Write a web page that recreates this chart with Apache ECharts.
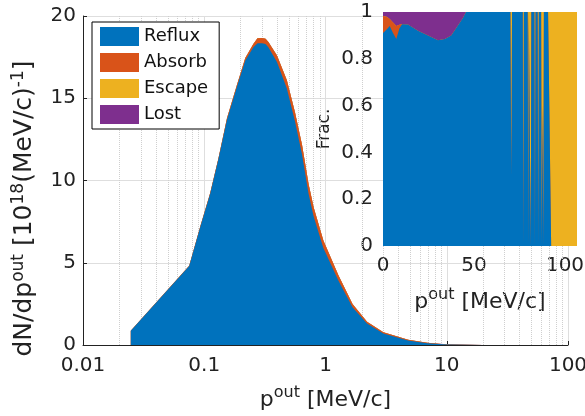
<!DOCTYPE html>
<html>
<head>
<meta charset="utf-8">
<script src="https://cdn.jsdelivr.net/npm/echarts@6/dist/echarts.min.js"></script>
<style>
  html, body { margin: 0; padding: 0; background: #fff; }
</style>
</head>
<body>
<div id="chart" style="width: 585px; height: 416px;"></div>
<script>
// main spectrum, p in MeV/c (log axis), dN/dp in 1e18 (MeV/c)^-1
var mainP = [0.0248, 0.0752, 0.093, 0.112, 0.131, 0.154, 0.186, 0.218, 0.254, 0.275, 0.3, 0.32, 0.338, 0.398, 0.48, 0.56, 0.64, 0.725, 0.8, 0.96, 1.28, 1.67, 2.2, 3.0, 4.8, 6.9, 10, 20, 50, 90];
var mainReflux = [0.87, 4.8, 7.2, 9.2, 11.3, 13.7, 15.7, 17.3, 18.1, 18.35, 18.35, 18.3, 18.1, 17.2, 15.6, 13.6, 11.6, 9.2, 7.8, 5.9, 3.9, 2.3, 1.3, 0.7, 0.28, 0.11, 0.03, 0.005, 0.001, 0];
var mainAbsorb = [0, 0.02, 0.03, 0.04, 0.06, 0.08, 0.1, 0.15, 0.2, 0.3, 0.32, 0.32, 0.32, 0.4, 0.5, 0.55, 0.58, 0.58, 0.55, 0.45, 0.32, 0.2, 0.12, 0.07, 0.04, 0.02, 0.006, 0, 0, 0];
var mainEscape = [0, 0, 0, 0, 0, 0, 0, 0, 0, 0, 0, 0, 0, 0, 0, 0, 0, 0, 0, 0, 0, 0, 0, 0, 0, 0, 0, 0, 0, 0.0005];
var mainLost = [0, 0, 0, 0, 0, 0, 0, 0, 0, 0, 0, 0, 0, 0, 0, 0, 0, 0, 0, 0, 0, 0, 0, 0.001, 0.004, 0.006, 0.002, 0.0005, 0, 0];

// inset: fractions vs p (linear axis)
var insetP = [0, 2, 3.7, 5.5, 7.3, 9, 10.5, 13.7, 19.2, 24.7, 30.2, 34, 37.5, 41, 44, 45.6, 70, 70.5, 70.9, 76.8, 77.1, 77.4, 79.5, 79.8, 80.1, 80.9, 81.2, 81.5, 83.2, 83.5, 83.8, 85.0, 85.3, 85.6, 86.9, 87.2, 87.65, 88.1, 88.4, 90.7, 92.4, 106.6];
var insetReflux = [0.91, 0.925, 0.94, 0.91, 0.885, 0.93, 0.948, 0.947, 0.92, 0.9, 0.879, 0.885, 0.9, 0.94, 0.975, 1, 1, 0.3, 1, 1, 0, 1, 1, 0, 1, 1, 0, 1, 1, 0, 1, 1, 0, 1, 1, 0, 0.6, 0, 1, 1, 0, 0];
var insetAbsorb = [0.073, 0.055, 0.03, 0.045, 0.055, 0.015, 0, 0, 0, 0, 0, 0, 0, 0, 0, 0, 0, 0, 0, 0, 0, 0, 0, 0, 0, 0, 0, 0, 0, 0, 0, 0, 0, 0, 0, 0, 0, 0, 0, 0, 0, 0];
var insetEscape = [0, 0, 0, 0, 0, 0, 0, 0, 0, 0, 0, 0, 0, 0, 0, 0, 0, 0.7, 0, 0, 1, 0, 0, 1, 0, 0, 1, 0, 0, 1, 0, 0, 1, 0, 0, 1, 0.4, 1, 0, 0, 1, 1];
var insetLost = [0.017, 0.02, 0.03, 0.045, 0.06, 0.055, 0.052, 0.053, 0.08, 0.1, 0.121, 0.115, 0.1, 0.06, 0.025, 0, 0, 0, 0, 0, 0, 0, 0, 0, 0, 0, 0, 0, 0, 0, 0, 0, 0, 0, 0, 0, 0, 0, 0, 0, 0, 0];

var names = ['Reflux', 'Absorb', 'Escape', 'Lost'];
var colors = ['#0072BD', '#D95319', '#EDB120', '#7E2F8E'];
var decades = [0.01, 0.1, 1, 10];
var minorSteps = [2, 3, 4, 5, 6, 7, 8, 9];

var font = 'DejaVu Sans';
var txt = '#222';

// running totals so each layer can be filled down to zero, top layer drawn first
function cumulative(sets) {
  var out = [];
  var run = sets[0].map(function () { return 0; });
  sets.forEach(function (s) {
    run = run.map(function (v, i) { return v + s[i]; });
    out.push(run.slice());
  });
  return out;
}

function pairs(xs, ys) {
  return xs.map(function (x, i) { return [x, ys[i]]; });
}

var minorLines = [];
decades.forEach(function (d) {
  minorSteps.forEach(function (k) {
    minorLines.push({ xAxis: +(d * k).toPrecision(3) });
  });
});

var mainTotals = cumulative([mainReflux, mainAbsorb, mainEscape, mainLost]);
var insetTotals = cumulative([insetReflux, insetAbsorb, insetEscape, insetLost]);

var series = [{
  type: 'line',
  xAxisIndex: 0,
  yAxisIndex: 0,
  data: [],
  silent: true,
  z: 1,
  markLine: {
    silent: true,
    symbol: 'none',
    label: { show: false },
    z: 1,
    lineStyle: { color: '#cfcfcf', type: 'dotted', width: 1 },
    data: minorLines
  }
}];

function addLayers(totals, xs, xi, baseZ) {
  for (var i = names.length - 1; i >= 0; i--) {
    series.push({
      name: names[i],
      type: 'line',
      xAxisIndex: xi,
      yAxisIndex: xi,
      data: pairs(xs, totals[i]),
      showSymbol: false,
      lineStyle: { width: 0 },
      areaStyle: { color: colors[i], opacity: 1 },
      itemStyle: { color: colors[i] },
      z: baseZ + (names.length - i)
    });
  }
}
addLayers(mainTotals, mainP, 0, 2);
addLayers(insetTotals, insetP, 1, 10);

var supRich = {
  sup: { fontSize: 16, fontFamily: font, color: txt, verticalAlign: 'top', lineHeight: 30 }
};

var option = {
  animation: false,
  backgroundColor: '#fff',
  color: colors,
  grid: [
    { left: 83, top: 16, right: 17, bottom: 71, outerBoundsMode: 'none' },
    { left: 383, top: 12, width: 194, height: 234, outerBoundsMode: 'none' }
  ],
  legend: {
    data: names,
    left: 92,
    top: 22,
    z: 30,
    orient: 'vertical',
    icon: 'rect',
    itemWidth: 39,
    itemHeight: 19,
    itemGap: 7,
    padding: [5, 11, 5, 8],
    borderColor: '#000',
    borderWidth: 1,
    borderRadius: 0,
    backgroundColor: '#fff',
    textStyle: { fontSize: 18, fontFamily: font, color: '#111' }
  },
  xAxis: [
    {
      type: 'log',
      gridIndex: 0,
      logBase: 10,
      min: 0.01,
      max: 100,
      name: 'p{sup|out} [MeV/c]',
      nameLocation: 'middle',
      nameGap: 40,
      nameTextStyle: { fontSize: 22, fontFamily: font, color: txt, lineHeight: 30, rich: supRich },
      axisLine: { show: true, lineStyle: { color: '#222', width: 1 } },
      axisTick: { show: true, inside: true, length: 4, lineStyle: { color: '#222' } },
      axisLabel: {
        fontSize: 20, fontFamily: font, color: txt, margin: 11,
        formatter: function (v) { return String(+v.toPrecision(2)); }
      },
      splitLine: { show: true, lineStyle: { color: '#dedede', width: 1 } }
    },
    {
      type: 'value',
      gridIndex: 1,
      min: 0,
      max: 106.6,
      interval: 50,
      name: 'p{sup|out} [MeV/c]',
      nameLocation: 'middle',
      nameGap: 41,
      nameTextStyle: { fontSize: 22, fontFamily: font, color: txt, lineHeight: 30, rich: supRich },
      axisLine: { show: false },
      axisTick: { show: false },
      axisLabel: { fontSize: 20, fontFamily: font, color: txt, margin: 10, showMaxLabel: false },
      splitLine: { show: false }
    }
  ],
  yAxis: [
    {
      type: 'value',
      gridIndex: 0,
      min: 0,
      max: 20,
      interval: 5,
      name: 'dN/dp{sup|out} [10{sup|18}(MeV/c){sup|-1}]',
      nameLocation: 'middle',
      nameGap: 38,
      nameTextStyle: { fontSize: 25, fontFamily: font, color: txt, lineHeight: 30, rich: {
        sup: { fontSize: 17, fontFamily: font, color: txt, verticalAlign: 'top', lineHeight: 30 }
      }, padding: [0, 56, 0, 0] },
      axisLine: { show: true, lineStyle: { color: '#222', width: 1 } },
      axisTick: { show: true, inside: true, length: 4, lineStyle: { color: '#222' } },
      axisLabel: { fontSize: 20, fontFamily: font, color: txt, margin: 7 },
      splitLine: { show: true, lineStyle: { color: '#dedede', width: 1 } }
    },
    {
      type: 'value',
      gridIndex: 1,
      min: 0,
      max: 1,
      interval: 0.2,
      name: 'Frac.',
      nameLocation: 'middle',
      nameGap: 50,
      nameTextStyle: { fontSize: 17, fontFamily: font, color: txt },
      axisLine: { show: false },
      axisTick: { show: false },
      axisLabel: { fontSize: 20, fontFamily: font, color: txt, margin: 10 },
      splitLine: { show: false }
    }
  ],
  series: series
};

var chart = echarts.init(document.getElementById('chart'), null, { renderer: 'canvas' });
chart.setOption(option);
</script>
</body>
</html>
